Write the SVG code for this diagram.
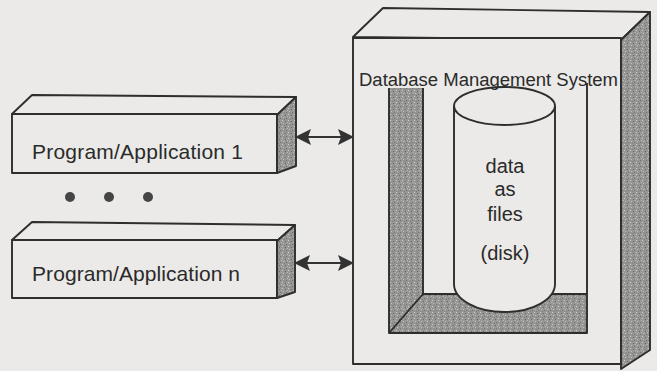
<svg xmlns="http://www.w3.org/2000/svg" width="657" height="371" viewBox="0 0 657 371">
  <defs>
    <!-- speckled grey used for the shaded faces -->
    <pattern id="speckle" width="6" height="6" patternUnits="userSpaceOnUse">
      <rect width="6" height="6" fill="#969694"/>
      <rect x="0" y="0" width="1" height="1" fill="#cfcfcd"/>
      <rect x="3" y="1" width="1" height="1" fill="#666664"/>
      <rect x="1" y="3" width="1" height="1" fill="#c0c0be"/>
      <rect x="4" y="4" width="1" height="1" fill="#70706e"/>
      <rect x="5" y="2" width="1" height="1" fill="#b8b8b6"/>
      <rect x="2" y="5" width="1" height="1" fill="#7e7e7c"/>
    </pattern>
    <marker id="head" viewBox="0 0 16 16" refX="15" refY="8" markerWidth="16" markerHeight="16" markerUnits="userSpaceOnUse" orient="auto-start-reverse">
      <path d="M0,0 L16,8 L0,16 L3,8 Z" fill="#333333"/>
    </marker>
  </defs>
  <style>
    .edge { fill: none; stroke: #2e2e2e; stroke-width: 1.9; stroke-linejoin: round; }
    .face { fill: #ebeae8; stroke: #2e2e2e; stroke-width: 1.9; stroke-linejoin: round; }
    .shade { fill: url(#speckle); stroke: #2e2e2e; stroke-width: 1.9; stroke-linejoin: round; }
    .label { font-family: "Liberation Sans", Arial, sans-serif; fill: #2a2a2a; }
    .conn { stroke: #333333; stroke-width: 2.2; fill: none; marker-start: url(#head); marker-end: url(#head); }
  </style>

  <rect width="657" height="371" fill="#ebeae8"/>

  <!-- first application block -->
  <g id="app1">
    <polygon class="face" points="12,114 32,95 296,97 277,115"/>
    <rect class="face" x="12" y="114" width="265" height="59"/>
    <polygon class="shade" points="277,115 296,97 296,166 277,173"/>
    <text class="label" x="32" y="159" font-size="21" textLength="211">Program/Application 1</text>
  </g>

  <!-- ellipsis between the applications -->
  <g id="ellipsis" fill="#454545">
    <circle cx="70" cy="197" r="5"/>
    <circle cx="109" cy="197" r="5"/>
    <circle cx="148" cy="197" r="5"/>
  </g>

  <!-- last application block -->
  <g id="appN">
    <polygon class="face" points="12,240 32,222 295,225 277,241"/>
    <rect class="face" x="12" y="240" width="265" height="58"/>
    <polygon class="shade" points="277,241 295,225 295,292 277,298"/>
    <text class="label" x="32" y="281" font-size="21" textLength="208">Program/Application n</text>
  </g>

  <!-- database management system cabinet -->
  <g id="dbms">
    <polygon class="face" points="353,37 383,8 650,12 621,40"/>
    <rect class="face" x="353" y="38" width="268" height="326"/>
    <polygon class="shade" points="621,40 650,12 650,350 621,369"/>
    <!-- recessed compartment -->
    <rect x="389" y="88" width="198" height="245" fill="url(#speckle)"/>
    <rect x="423" y="88" width="164" height="206" fill="#ebeae8"/>
    <path class="edge" d="M389,88 V333 H587 V83 M423,88 V294 H587 M389,333 L423,294"/>
    <!-- disk cylinder -->
    <path class="face" d="M454,106 V284 A50.5,28 0 0 0 555,284 V106"/>
    <ellipse class="face" cx="504.5" cy="106" rx="50.5" ry="19"/>
    <text class="label" x="359" y="86" font-size="18" textLength="259" lengthAdjust="spacingAndGlyphs">Database Management System</text>
    <g class="label" font-size="20" text-anchor="middle">
      <text x="505" y="173">data</text>
      <text x="505" y="196">as</text>
      <text x="505" y="221">files</text>
      <text x="505" y="260">(disk)</text>
    </g>
  </g>

  <!-- two-way links between applications and the DBMS -->
  <g id="connectors">
    <line class="conn" x1="296" y1="137" x2="353" y2="137"/>
    <line class="conn" x1="295" y1="263" x2="353" y2="263"/>
  </g>
</svg>
